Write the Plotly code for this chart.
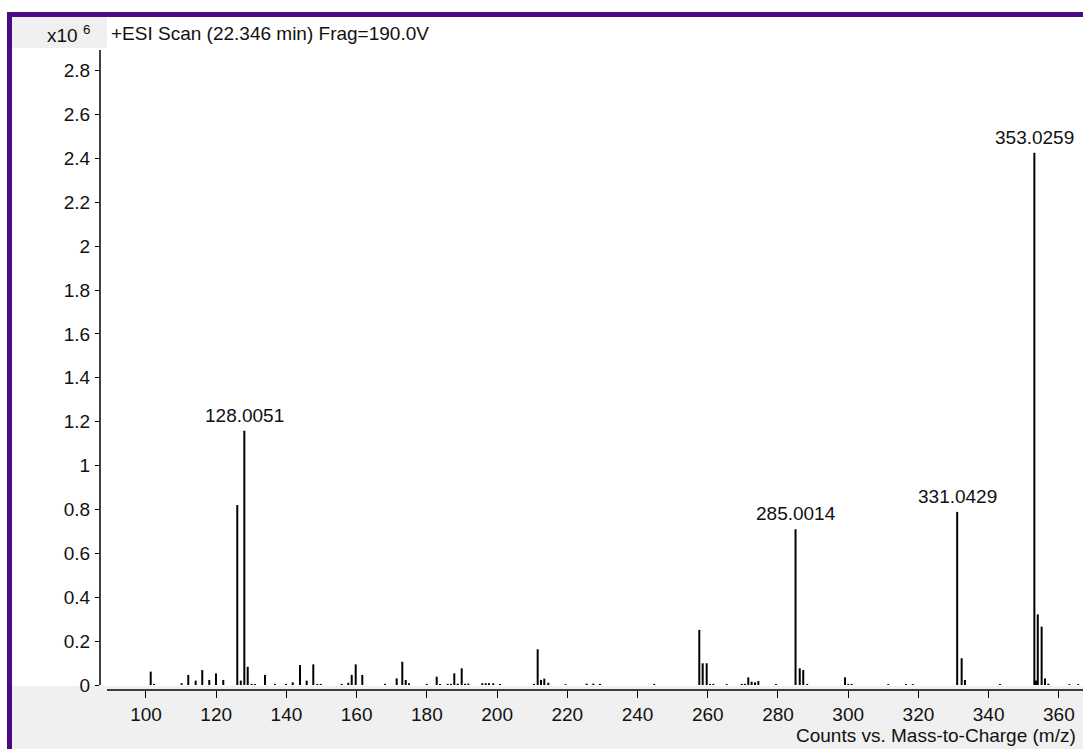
import plotly.graph_objects as go

# Centroided peaks: m/z and intensity (counts, x10^6)
mz = [
    101.34, 102.3, 110.16, 112.04, 114.15, 116.03, 118.02, 119.93, 122.01,
    126.0, 127.0, 128.0051, 128.97, 130.1, 131.06, 133.9, 136.74, 139.9,
    141.8, 143.86, 145.77, 147.65, 148.8, 149.76, 155.74, 157.62, 158.59,
    159.73, 161.61, 168.07, 171.4, 173.0, 173.97, 174.9, 179.95, 182.8,
    183.74, 185.93, 186.87, 187.81, 188.78, 189.92, 190.86, 191.8, 195.79,
    196.76, 197.7, 198.92, 200.83, 210.5, 211.56, 212.5, 213.45, 214.59,
    219.5, 225.5, 227.4, 229.3, 244.77, 257.59, 258.56, 259.7, 260.65,
    261.58, 265.4, 269.67, 270.6, 271.55, 272.5, 273.46, 274.4, 279.43,
    285.0014, 286.2, 287.2, 288.33, 299.1, 300.03, 301.0, 311.4, 316.47,
    318.38, 331.0429, 332.32, 333.26, 343.23, 353.0259, 353.5, 354.0,
    355.1, 356.05, 357.0, 363.0, 365.53,
]
intensity = [
    0.061, 0.005, 0.008, 0.046, 0.020, 0.068, 0.023, 0.053, 0.023,
    0.820, 0.020, 1.159, 0.083, 0.005, 0.005, 0.046, 0.005, 0.005,
    0.012, 0.091, 0.020, 0.094, 0.005, 0.005, 0.005, 0.010, 0.046,
    0.094, 0.046, 0.005, 0.030, 0.106, 0.023, 0.008, 0.005, 0.038,
    0.005, 0.005, 0.005, 0.053, 0.006, 0.076, 0.006, 0.006, 0.008,
    0.008, 0.008, 0.008, 0.005, 0.005, 0.163, 0.023, 0.029, 0.010,
    0.004, 0.006, 0.006, 0.005, 0.005, 0.251, 0.099, 0.099, 0.005,
    0.005, 0.004, 0.005, 0.005, 0.035, 0.015, 0.012, 0.018, 0.004,
    0.710, 0.076, 0.068, 0.005, 0.035, 0.005, 0.005, 0.004, 0.004,
    0.004, 0.789, 0.122, 0.023, 0.004, 2.426, 0.020, 0.322,
    0.266, 0.030, 0.006, 0.004, 0.004,
]
labelled_mz = [128.0051, 285.0014, 331.0429, 353.0259]

x_ticks = [100, 120, 140, 160, 180, 200, 220, 240, 260, 280, 300, 320, 340, 360]
y_ticks = [0, 0.2, 0.4, 0.6, 0.8, 1, 1.2, 1.4, 1.6, 1.8, 2, 2.2, 2.4, 2.6, 2.8]

title_text = "+ESI Scan (22.346 min) Frag=190.0V"
x_title = "Counts vs. Mass-to-Charge (m/z)"
y_scale = "x10 <sup>6</sup>"

W, H = 1083, 749
L, R, T, B = 100, 0, 17, 59
PW, PH = W - L - R, H - T - B
FONT = "Liberation Sans, Arial, sans-serif"
INK = "#111111"
GRAY = "#f0f0f0"
PURPLE = "#4b0a86"


def fx(px):
    return (px - L) / PW


def fy(py):
    return (H - B - py) / PH


# stick spectrum: one vertical segment per peak
xs, ys = [], []
for m, h in zip(mz, intensity):
    xs += [m, m, None]
    ys += [0, h, None]

fig = go.Figure(go.Scatter(
    x=xs, y=ys, mode="lines",
    line=dict(color="black", width=2),
    hoverinfo="skip", showlegend=False,
))

shapes = [
    # gray panels
    dict(type="rect", xref="paper", yref="paper", x0=fx(12), x1=fx(W),
         y0=fy(686), y1=fy(H), fillcolor=GRAY, line_width=0, layer="below"),
    dict(type="rect", xref="paper", yref="paper", x0=fx(12), x1=fx(107),
         y0=fy(17), y1=fy(48), fillcolor=GRAY, line_width=0, layer="below"),
    # axis lines
    dict(type="line", xref="paper", yref="paper", x0=0, x1=0,
         y0=fy(50), y1=fy(685), line=dict(color="black", width=1.5)),
    dict(type="line", xref="paper", yref="paper", x0=fx(107), x1=fx(W),
         y0=0, y1=0, line=dict(color="black", width=1.5)),
    # window frame
    dict(type="rect", xref="paper", yref="paper", x0=fx(7), x1=fx(12),
         y0=fy(12), y1=fy(H), fillcolor=PURPLE, line_width=0, layer="above"),
    dict(type="rect", xref="paper", yref="paper", x0=fx(7), x1=fx(W),
         y0=fy(12), y1=fy(17), fillcolor=PURPLE, line_width=0, layer="above"),
]

annotations = [
    dict(text=title_text, xref="paper", yref="paper", x=fx(109), y=fy(33),
         xanchor="left", yanchor="middle", showarrow=False,
         font=dict(family=FONT, size=19, color=INK)),
    dict(text=y_scale, xref="paper", yref="paper", x=fx(92), y=fy(34),
         xanchor="right", yanchor="middle", showarrow=False,
         font=dict(family=FONT, size=19, color=INK)),
    dict(text=x_title, xref="paper", yref="paper", x=fx(794), y=fy(735),
         xanchor="left", yanchor="middle", showarrow=False,
         font=dict(family=FONT, size=19, color=INK)),
]
for lm in labelled_mz:
    h = intensity[mz.index(lm)]
    annotations.append(dict(
        text=f"{lm:.4f}", x=lm, y=h, xref="x", yref="y",
        xanchor="center", yanchor="bottom", yshift=3, showarrow=False,
        font=dict(family=FONT, size=19, color=INK)))

fig.update_layout(
    width=W, height=H, autosize=False,
    margin=dict(l=L, r=R, t=T, b=B, pad=0),
    paper_bgcolor="white", plot_bgcolor="rgba(0,0,0,0)",
    shapes=shapes, annotations=annotations,
    xaxis=dict(range=[86.9, 366.88], tickvals=x_ticks, ticks="outside",
               ticklen=7, tickcolor="black", showgrid=False, zeroline=False,
               showline=False, tickfont=dict(family=FONT, size=19, color=INK)),
    yaxis=dict(range=[-0.0228, 3.0447], tickvals=y_ticks, ticks="outside",
               ticklen=4, tickcolor="black", showgrid=False, zeroline=False,
               showline=False, ticklabelstandoff=1,
               tickfont=dict(family=FONT, size=19, color=INK)),
)

fig.write_html("out.html")
